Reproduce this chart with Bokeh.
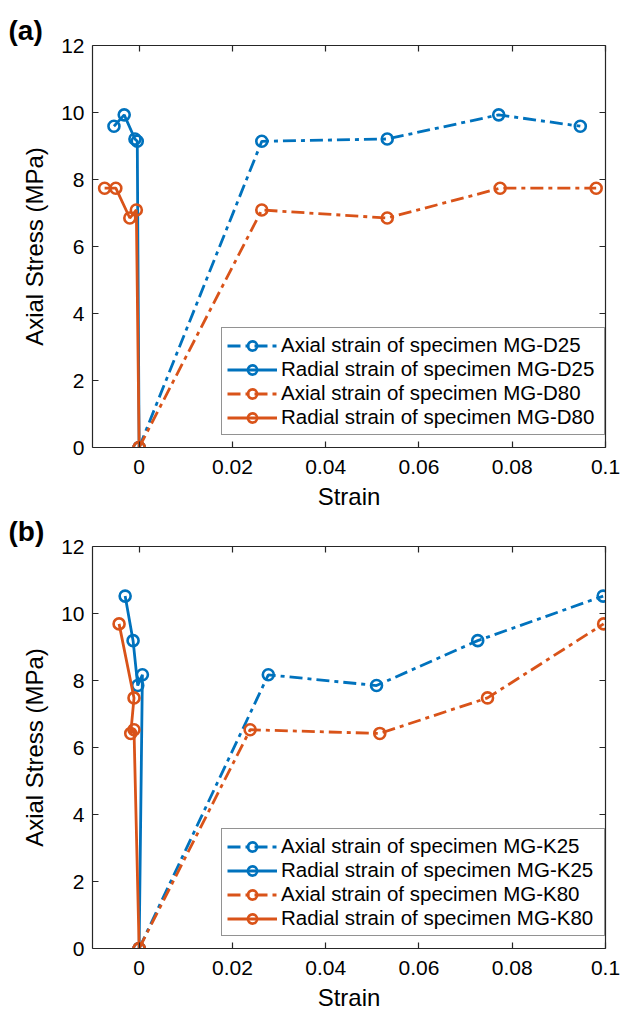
from bokeh.plotting import figure
from bokeh.layouts import column
from bokeh.models import (LinearAxis, FixedTicker, Legend, LegendItem, Title, Range1d)
from bokeh.embed import file_html
from bokeh.resources import INLINE

# ---------------- data ----------------
# Panel (a)
a_axial_D25_x = [0.0, 0.0263, 0.0532, 0.0771, 0.0946]
a_axial_D25_y = [0.0, 9.14, 9.21, 9.93, 9.59]
a_radial_D25_x = [0.0, -0.0004, -0.0009, -0.0032, -0.0054]
a_radial_D25_y = [0.0, 9.14, 9.21, 9.93, 9.59]
a_axial_D80_x = [0.0, 0.0263, 0.0532, 0.0774, 0.0980]
a_axial_D80_y = [0.0, 7.09, 6.85, 7.74, 7.74]
a_radial_D80_x = [0.0, -0.0006, -0.0020, -0.0050, -0.0074]
a_radial_D80_y = [0.0, 7.09, 6.85, 7.74, 7.74]

# Panel (b)
b_axial_K25_x = [0.0, 0.0277, 0.0509, 0.0726, 0.0995]
b_axial_K25_y = [0.0, 8.17, 7.85, 9.19, 10.52]
b_radial_K25_x = [0.0, 0.0007, -0.0003, -0.0013, -0.0030]
b_radial_K25_y = [0.0, 8.17, 7.85, 9.19, 10.52]
b_axial_K80_x = [0.0, 0.0238, 0.0516, 0.0747, 0.0996]
b_axial_K80_y = [0.0, 6.53, 6.42, 7.48, 9.69]
b_radial_K80_x = [0.0, -0.0011, -0.0018, -0.0011, -0.0043]
b_radial_K80_y = [0.0, 6.53, 6.42, 7.48, 9.69]

x_ticks = [0, 0.02, 0.04, 0.06, 0.08, 0.1]
x_tick_labels = ["0", "0.02", "0.04", "0.06", "0.08", "0.1"]
y_ticks = [0, 2, 4, 6, 8, 10, 12]
y_tick_labels = ["0", "2", "4", "6", "8", "10", "12"]

BLUE = "#0072BD"
ORANGE = "#D95319"
AXC = "#262626"
FONT = "Liberation Sans"
DASH = "13 5 4 5"


def style_axis(ax, labels=True):
    ax.axis_line_color = AXC
    ax.axis_line_width = 1.2
    ax.major_tick_line_color = AXC
    ax.major_tick_line_width = 1.2
    ax.major_tick_in = 6
    ax.major_tick_out = 0
    ax.minor_tick_line_color = None
    if labels:
        ax.major_label_text_font = FONT
        ax.major_label_text_font_size = "21px"
        ax.major_label_text_color = "#000000"
        ax.axis_label_text_font = FONT
        ax.axis_label_text_font_size = "24px"
        ax.axis_label_text_font_style = "normal"
        ax.axis_label_text_color = "#000000"
    else:
        ax.major_label_text_color = None
        ax.major_label_standoff = 0


def make_panel(tag, series, names, top_border, bottom_border):
    p = figure(frame_width=513, frame_height=402,
               min_border_left=92, min_border_right=22,
               min_border_top=top_border, min_border_bottom=bottom_border,
               x_range=Range1d(-0.01, 0.1), y_range=Range1d(0, 12),
               output_backend="svg", toolbar_location=None,
               x_axis_label="Strain", y_axis_label="Axial Stress (MPa)")
    p.outline_line_color = None
    p.xgrid.visible = False
    p.ygrid.visible = False
    p.background_fill_color = "white"
    p.border_fill_color = "white"

    # panel tag as a left-aligned title pushed to the left edge
    p.title = Title(text=tag, align="left", offset=-84,
                    text_font=FONT, text_font_size="28px",
                    text_font_style="bold", text_color="#000000",
                    standoff=0)
    p.title_location = "above"

    p.xaxis.ticker = FixedTicker(ticks=x_ticks)
    p.xaxis.major_label_overrides = {float(t): l for t, l in zip(x_ticks, x_tick_labels)}
    p.yaxis.ticker = FixedTicker(ticks=y_ticks)
    p.yaxis.major_label_overrides = {float(t): l for t, l in zip(y_ticks, y_tick_labels)}
    style_axis(p.xaxis[0])
    style_axis(p.yaxis[0])
    p.xaxis.major_label_standoff = 12
    p.xaxis.axis_label_standoff = 6
    p.yaxis.major_label_standoff = 8
    p.yaxis.axis_label_standoff = 10

    top = LinearAxis(ticker=FixedTicker(ticks=x_ticks))
    right = LinearAxis(ticker=FixedTicker(ticks=y_ticks))
    style_axis(top, labels=False)
    style_axis(right, labels=False)
    p.add_layout(top, "above")
    p.add_layout(right, "right")

    items = []
    for (xs, ys, color, dashed), name in zip(series, names):
        dash = DASH if dashed else "solid"
        ln = p.line(xs, ys, line_color=color, line_width=2.8, line_dash=dash)
        sc = p.scatter(xs, ys, marker="circle", size=11, fill_color=None,
                       line_color=color, line_width=2.6)
        items.append(LegendItem(label=name, renderers=[ln, sc]))

    leg = Legend(items=items, location=(129, 12),
                 label_text_font=FONT, label_text_font_size="20.5px",
                 label_text_color="#000000",
                 label_height=23, glyph_height=23, glyph_width=50,
                 label_standoff=4, label_width=318, spacing=0, padding=5,
                 border_line_color=AXC, border_line_width=1.2,
                 background_fill_color="white", background_fill_alpha=1.0)
    p.add_layout(leg, "center")
    return p


pa = make_panel("(a)",
                [(a_axial_D25_x, a_axial_D25_y, BLUE, True),
                 (a_radial_D25_x, a_radial_D25_y, BLUE, False),
                 (a_axial_D80_x, a_axial_D80_y, ORANGE, True),
                 (a_radial_D80_x, a_radial_D80_y, ORANGE, False)],
                ["Axial strain of specimen MG-D25",
                 "Radial strain of specimen MG-D25",
                 "Axial strain of specimen MG-D80",
                 "Radial strain of specimen MG-D80"],
                45, 63)

pb = make_panel("(b)",
                [(b_axial_K25_x, b_axial_K25_y, BLUE, True),
                 (b_radial_K25_x, b_radial_K25_y, BLUE, False),
                 (b_axial_K80_x, b_axial_K80_y, ORANGE, True),
                 (b_radial_K80_x, b_radial_K80_y, ORANGE, False)],
                ["Axial strain of specimen MG-K25",
                 "Radial strain of specimen MG-K25",
                 "Axial strain of specimen MG-K80",
                 "Radial strain of specimen MG-K80"],
                34, 63)

layout = column(pa, pb, spacing=0)
open("out.html", "w").write(file_html(layout, INLINE))
